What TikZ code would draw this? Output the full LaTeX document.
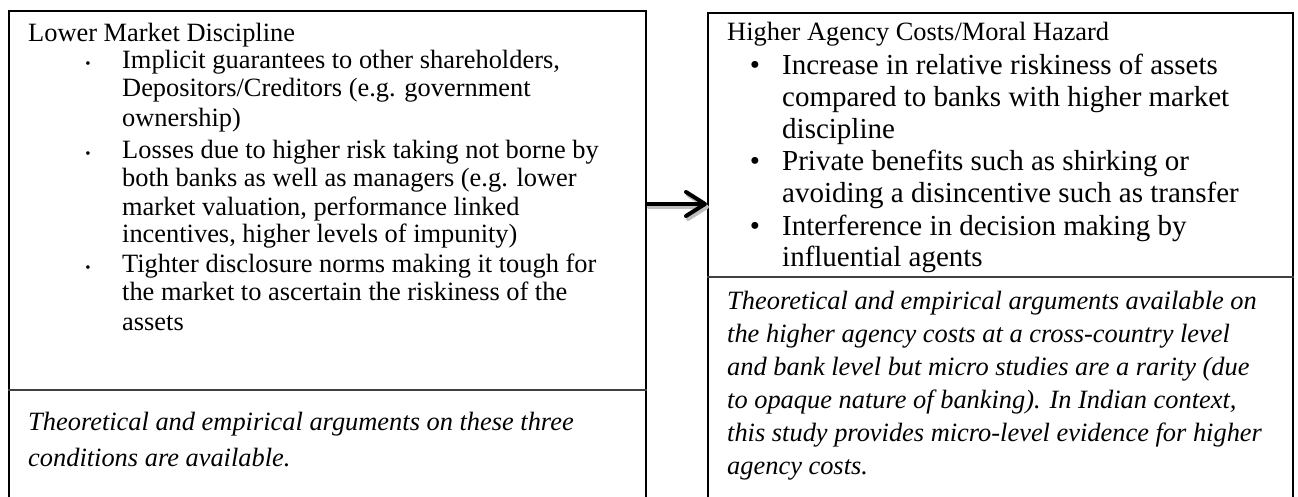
\documentclass[tikz,border=0pt]{standalone}
\usepackage{fontspec}
\setmainfont{Liberation Serif}
\usetikzlibrary{arrows.meta}
\begin{document}
\begin{tikzpicture}[x=1pt,y=-1pt,
  frame/.style={draw=black,line width=1.8pt,inner sep=0pt,anchor=north west},
  rule/.style={draw=black!75,line width=1.8pt},
  txt/.style={anchor=base west,inner sep=0pt,font=\fontsize{26.4}{30}\selectfont},
  bigtxt/.style={anchor=base west,inner sep=0pt,font=\fontsize{29}{33}\selectfont},
  itx/.style={txt,font=\fontsize{26.4}{30}\selectfont\itshape},
  smalldot/.style={anchor=base,inner sep=0pt,font=\fontsize{15}{15}\selectfont},
  bigdot/.style={anchor=base,inner sep=0pt,font=\fontsize{29}{33}\selectfont},
  link/.style={line width=4pt,line cap=round,line join=round,
    -{Straight Barb[length=19pt,width=24pt,line width=4pt,round]}}
]
\useasboundingbox (0,0) rectangle (1298,497);
\clip (0,0) rectangle (1298,497);

% two panels, both running past the lower page edge
\node[frame,minimum width=637pt,minimum height=520pt] (lbox) at (8,10) {};
\node[frame,minimum width=585pt,minimum height=520pt] (rbox) at (707,12) {};

% horizontal rules splitting each panel
\coordinate (lsplit) at (0,390);
\coordinate (rsplit) at (0,277);
\draw[rule] (lbox.west |- lsplit) -- (lbox.east |- lsplit);
\draw[rule] (rbox.west |- rsplit) -- (rbox.east |- rsplit);

% left panel
\node[txt] (lt) at (28,42) {Lower Market Discipline};
\node[smalldot] (lb1) at (88,69) {•};
\node[txt] (l1) at (122,69) {Implicit guarantees to other shareholders,};
\node[txt] (l2) at (122,97) {Depositors/Creditors (e.g. government};
\node[txt] (l3) at (122,127) {ownership)};
\node[smalldot] (lb2) at (88,159) {•};
\node[txt] (l4) at (122,159) {Losses due to higher risk taking not borne by};
\node[txt] (l5) at (122,187) {both banks as well as managers (e.g. lower};
\node[txt] (l6) at (122,215) {market valuation, performance linked};
\node[txt] (l7) at (122,243) {incentives, higher levels of impunity)};
\node[smalldot] (lb3) at (88,272) {•};
\node[txt] (l8) at (122,272) {Tighter disclosure norms making it tough for};
\node[txt] (l9) at (122,300) {the market to ascertain the riskiness of the};
\node[txt] (l10) at (122,330) {assets};
\node[itx] (li1) at (28,430) {Theoretical and empirical arguments on these three};
\node[itx] (li2) at (28,466) {conditions are available.};

% right panel
\node[txt] (rt) at (727,41) {Higher Agency Costs/Moral Hazard};
\node[bigdot] (rb1) at (755,75) {•};
\node[bigtxt] (r1) at (782,75) {Increase in relative riskiness of assets};
\node[bigtxt] (r2) at (782,107) {compared to banks with higher market};
\node[bigtxt] (r3) at (782,139) {discipline};
\node[bigdot] (rb2) at (755,171) {•};
\node[bigtxt] (r4) at (782,171) {Private benefits such as shirking or};
\node[bigtxt] (r5) at (782,203) {avoiding a disincentive such as transfer};
\node[bigdot] (rb3) at (755,235) {•};
\node[bigtxt] (r6) at (782,235) {Interference in decision making by};
\node[bigtxt] (r7) at (782,266) {influential agents};
\node[itx] (ri1) at (727,309) {Theoretical and empirical arguments available on};
\node[itx] (ri2) at (727,342) {the higher agency costs at a cross-country level};
\node[itx] (ri3) at (727,375) {and bank level but micro studies are a rarity (due};
\node[itx] (ri4) at (727,408) {to opaque nature of banking). In Indian context,};
\node[itx] (ri5) at (727,441) {this study provides micro-level evidence for higher};
\node[itx] (ri6) at (727,474) {agency costs.};

% connector with a soft shadow
\coordinate (ay) at (0,204);
\draw[link,draw=black!25,transform canvas={xshift=2pt,yshift=-3pt}]
  (lbox.east |- ay) -- (rbox.west |- ay);
\draw[link] (lbox.east |- ay) -- (rbox.west |- ay);
\end{tikzpicture}
\end{document}
